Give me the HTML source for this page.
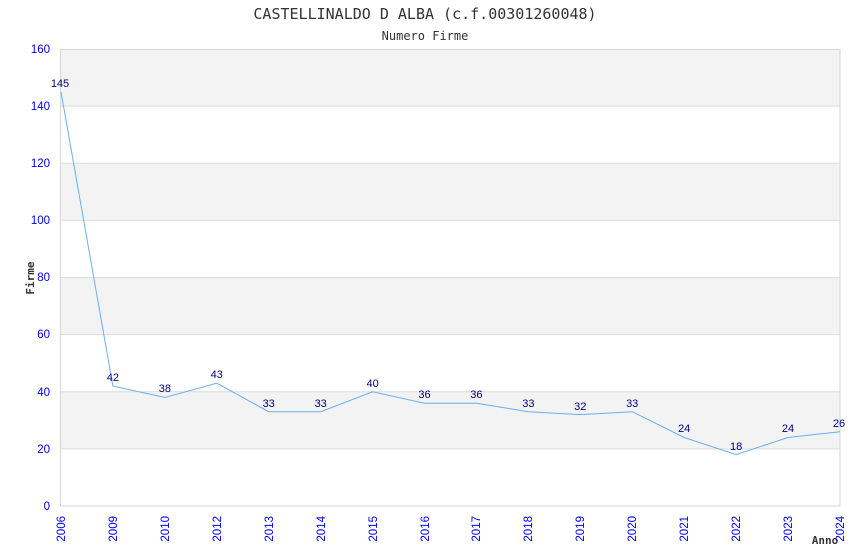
<!DOCTYPE html><html><head><style>body{margin:0;background:#fff}</style></head><body>
<svg width="850" height="550" xmlns="http://www.w3.org/2000/svg" font-family="Liberation Sans, DejaVu Sans, sans-serif">
<rect width="850" height="550" fill="#fff"/>
<g fill="#f3f3f3">
<rect x="61" y="49" width="779" height="57.1"/>
<rect x="61" y="163.3" width="779" height="57.1"/>
<rect x="61" y="277.5" width="779" height="57.1"/>
<rect x="61" y="391.8" width="779" height="57.1"/>
</g>
<g stroke="#dcdcdc" stroke-width="1">
<line x1="61" y1="106.1" x2="840" y2="106.1"/><line x1="61" y1="163.3" x2="840" y2="163.3"/>
<line x1="61" y1="220.4" x2="840" y2="220.4"/><line x1="61" y1="277.5" x2="840" y2="277.5"/>
<line x1="61" y1="334.6" x2="840" y2="334.6"/><line x1="61" y1="391.8" x2="840" y2="391.8"/>
<line x1="61" y1="448.9" x2="840" y2="448.9"/>
</g>
<rect x="60.5" y="49.5" width="779.5" height="456.5" fill="none" stroke="#d6d6d6"/>
<text x="425" y="19" text-anchor="middle" font-family="DejaVu Sans Mono, Liberation Mono, monospace" font-size="15" fill="#333">CASTELLINALDO D ALBA (c.f.00301260048)</text>
<text x="425" y="40" text-anchor="middle" font-family="DejaVu Sans Mono, Liberation Mono, monospace" font-size="12" fill="#333">Numero Firme</text>
<text transform="translate(34,278) rotate(-90)" text-anchor="middle" font-family="DejaVu Sans Mono, monospace" font-size="11" font-weight="bold" fill="#333">Firme</text>
<text x="825" y="544" text-anchor="middle" font-family="DejaVu Sans Mono, monospace" font-size="11" font-weight="bold" fill="#333">Anno</text>
<g font-size="11.5" fill="#0000ee" text-anchor="end">
<text x="50" y="53">160</text><text x="50" y="110">140</text><text x="50" y="167">120</text>
<text x="50" y="224">100</text><text x="50" y="281">80</text><text x="50" y="338">60</text>
<text x="50" y="396">40</text><text x="50" y="453">20</text><text x="50" y="510">0</text>
</g>
<g font-size="11.5" fill="#0000ee" text-anchor="end">
<text transform="translate(65,516) rotate(-90)">2006</text>
<text transform="translate(117,516) rotate(-90)">2009</text>
<text transform="translate(169,516) rotate(-90)">2010</text>
<text transform="translate(221,516) rotate(-90)">2012</text>
<text transform="translate(273,516) rotate(-90)">2013</text>
<text transform="translate(325,516) rotate(-90)">2014</text>
<text transform="translate(377,516) rotate(-90)">2015</text>
<text transform="translate(429,516) rotate(-90)">2016</text>
<text transform="translate(480,516) rotate(-90)">2017</text>
<text transform="translate(532,516) rotate(-90)">2018</text>
<text transform="translate(584,516) rotate(-90)">2019</text>
<text transform="translate(636,516) rotate(-90)">2020</text>
<text transform="translate(688,516) rotate(-90)">2021</text>
<text transform="translate(740,516) rotate(-90)">2022</text>
<text transform="translate(792,516) rotate(-90)">2023</text>
<text transform="translate(844,516) rotate(-90)">2024</text>
</g>
<polyline fill="none" stroke="#6aaef0" stroke-width="1" points="61,91.8 112.9,386 164.9,397.5 216.8,383.2 268.7,411.7 320.7,411.7 372.6,391.8 424.5,403.2 476.4,403.2 528.4,411.7 580.3,414.6 632.2,411.7 684.2,437.5 736.1,454.6 788,437.5 840,431.7"/>
<g font-size="11" fill="#000080" text-anchor="middle">
<text x="60" y="87">145</text><text x="112.9" y="381">42</text><text x="164.9" y="392">38</text>
<text x="216.8" y="378">43</text><text x="268.7" y="407">33</text><text x="320.7" y="407">33</text>
<text x="372.6" y="387">40</text><text x="424.5" y="398">36</text><text x="476.4" y="398">36</text>
<text x="528.4" y="407">33</text><text x="580.3" y="410">32</text><text x="632.2" y="407">33</text>
<text x="684.2" y="432">24</text><text x="736.1" y="450">18</text><text x="788" y="432">24</text>
<text x="839" y="427">26</text>
</g>
</svg>
</body></html>
